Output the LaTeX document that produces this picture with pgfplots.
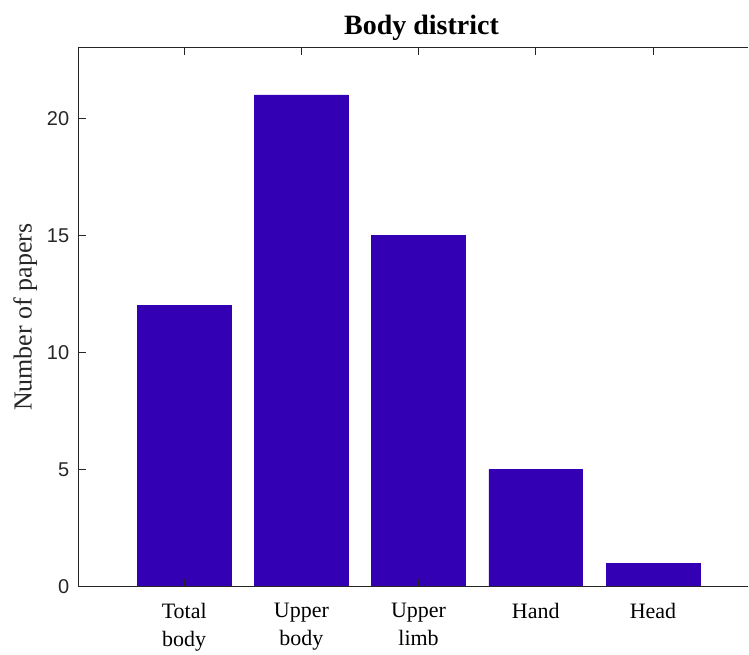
\documentclass[border=0pt]{standalone}
\usepackage{pgfplots}
\pgfplotsset{compat=1.18}
\usepackage{fontspec}
\setmainfont{Liberation Serif}
\newfontfamily\arial{Liberation Sans}
\definecolor{barc}{RGB}{51,0,179}
\definecolor{axc}{RGB}{38,38,38}
\begin{document}
\begin{tikzpicture}
\begin{axis}[
  ybar, bar width=0.8, bar shift=0pt,
  axis on top,
  at={(78.8pt,64pt)}, anchor=south west,
  scale only axis, width=670.2pt, height=539pt,
  xmin=0.1, xmax=5.8136, ymin=0, ymax=23,
  axis line style={draw=axc, line width=0.9pt, -},
  tick style={draw=axc, line width=0.9pt},
  tick align=inside, major tick length=7pt,
  ytick pos=left,
  xtick={1,2,3,4,5},
  xticklabels={{Total\\body},{Upper\\body},{Upper\\limb},{Hand},{Head}},
  xticklabel style={font=\fontsize{22}{28}\selectfont, align=center, text=black, anchor=north, yshift=-13pt},
  ytick={0,5,10,15,20},
  yticklabel style={font=\arial\fontsize{20}{24}\selectfont, text=axc, xshift=-6pt},
  /pgf/number format/assume math mode=true,
  title={\textbf{Body district}},
  title style={font=\fontsize{28}{32}\selectfont, at={(axis description cs:0.512,1)}, anchor=base, yshift=7pt},
  ylabel={Number of papers},
  every axis y label/.style={at={(axis description cs:-0.08,0.5)}, rotate=90, anchor=center, font=\fontsize{26}{30}\selectfont, text=axc},
  after end axis/.code={\draw[white, line width=1.4pt] (rel axis cs:1,-0.01) -- (rel axis cs:1,1.01);},
]
\addplot[fill=barc, draw=barc, line width=0.5pt] coordinates {(1,12) (2,21) (3,15) (4,5) (5,1)};
\end{axis}
\path (0pt,0pt) rectangle (749pt,651pt);
\end{tikzpicture}
\end{document}
